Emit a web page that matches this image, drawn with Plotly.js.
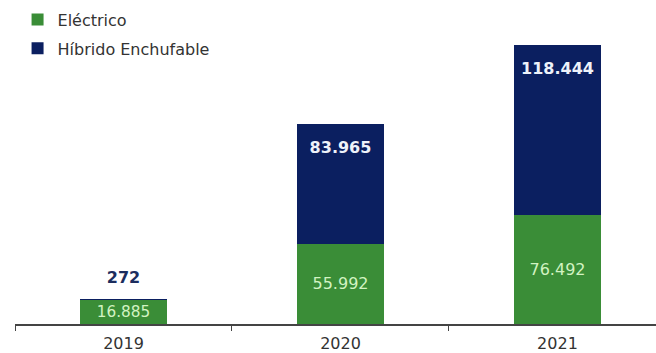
<!DOCTYPE html>
<html>
<head>
<meta charset="utf-8">
<script src="https://cdn.plot.ly/plotly-3.0.1.min.js"></script>
<style>html,body{margin:0;padding:0;background:#fff;}#chart{width:656px;height:353px;}</style>
</head>
<body>
<div id="chart"></div>
<script>
const years = ['2019', '2020', '2021'];
const electrico = [16885, 55992, 76492];
const hibrido = [272, 83965, 118444];
const seriesNames = ['Eléctrico', 'Híbrido Enchufable'];

const green = '#3a8d37';
const navy = '#0b1f60';

function fmt(v) {
  return String(v).replace(/\B(?=(\d{3})+(?!\d))/g, '.');
}

const totals = years.map((_, i) => electrico[i] + hibrido[i]);
const isSmall = hibrido.map(v => v < 10000);

const traces = [
  {
    type: 'bar', name: seriesNames[0], x: years, y: electrico,
    marker: {color: green}, legendgroup: 'a',
    texttemplate: '%{y:,}', textposition: 'inside', insidetextanchor: 'middle',
    textfont: {family: 'DejaVu Sans', size: 16, color: '#d2f3c2'},
    hoverinfo: 'skip', cliponaxis: false
  },
  {
    type: 'bar', name: seriesNames[1], x: years, y: hibrido,
    marker: {color: navy}, legendgroup: 'b',
    textposition: 'none',
    hoverinfo: 'skip', cliponaxis: false
  },
  {
    // value labels of the hybrid series, positioned at the top of each stack
    type: 'scatter', mode: 'markers+text', x: years, y: totals,
    text: hibrido.map(v => '<b>' + fmt(v) + '</b>'),
    textposition: isSmall.map(s => s ? 'top center' : 'bottom center'),
    marker: {size: isSmall.map(s => s ? 18 : 26), opacity: 0, color: navy},
    textfont: {family: 'DejaVu Sans', size: 16, color: isSmall.map(s => s ? '#1c2d5e' : '#eef2fa')},
    showlegend: false, hoverinfo: 'skip', cliponaxis: false
  }
];

const layout = {
  width: 656, height: 353,
  margin: {l: 15, r: 0, t: 0, b: 29},
  paper_bgcolor: '#ffffff', plot_bgcolor: '#ffffff',
  separators: ',.',
  barmode: 'stack',
  bargap: 0.6,
  font: {family: 'DejaVu Sans', color: '#333333'},
  showlegend: true,
  legend: {
    x: 0.004, y: 0.992, xanchor: 'left', yanchor: 'top',
    traceorder: 'grouped', tracegroupgap: 5,
    font: {family: 'DejaVu Sans', size: 16, color: '#333333'},
    bgcolor: 'rgba(0,0,0,0)', itemwidth: 30
  },
  xaxis: {
    type: 'category', range: [-0.5, 2.454],
    showline: true, linecolor: '#444444', linewidth: 1.5,
    ticks: 'outside', tickson: 'boundaries', ticklen: 5, tickcolor: '#444444',
    tickfont: {family: 'DejaVu Sans', size: 16, color: '#333333'},
    ticklabelstandoff: 4,
    showgrid: false, zeroline: false, fixedrange: true
  },
  yaxis: {
    range: [0, 226400], visible: false, showgrid: false, zeroline: false, fixedrange: true
  }
};

Plotly.newPlot('chart', traces, layout, {displayModeBar: false, staticPlot: true});
</script>
</body>
</html>
